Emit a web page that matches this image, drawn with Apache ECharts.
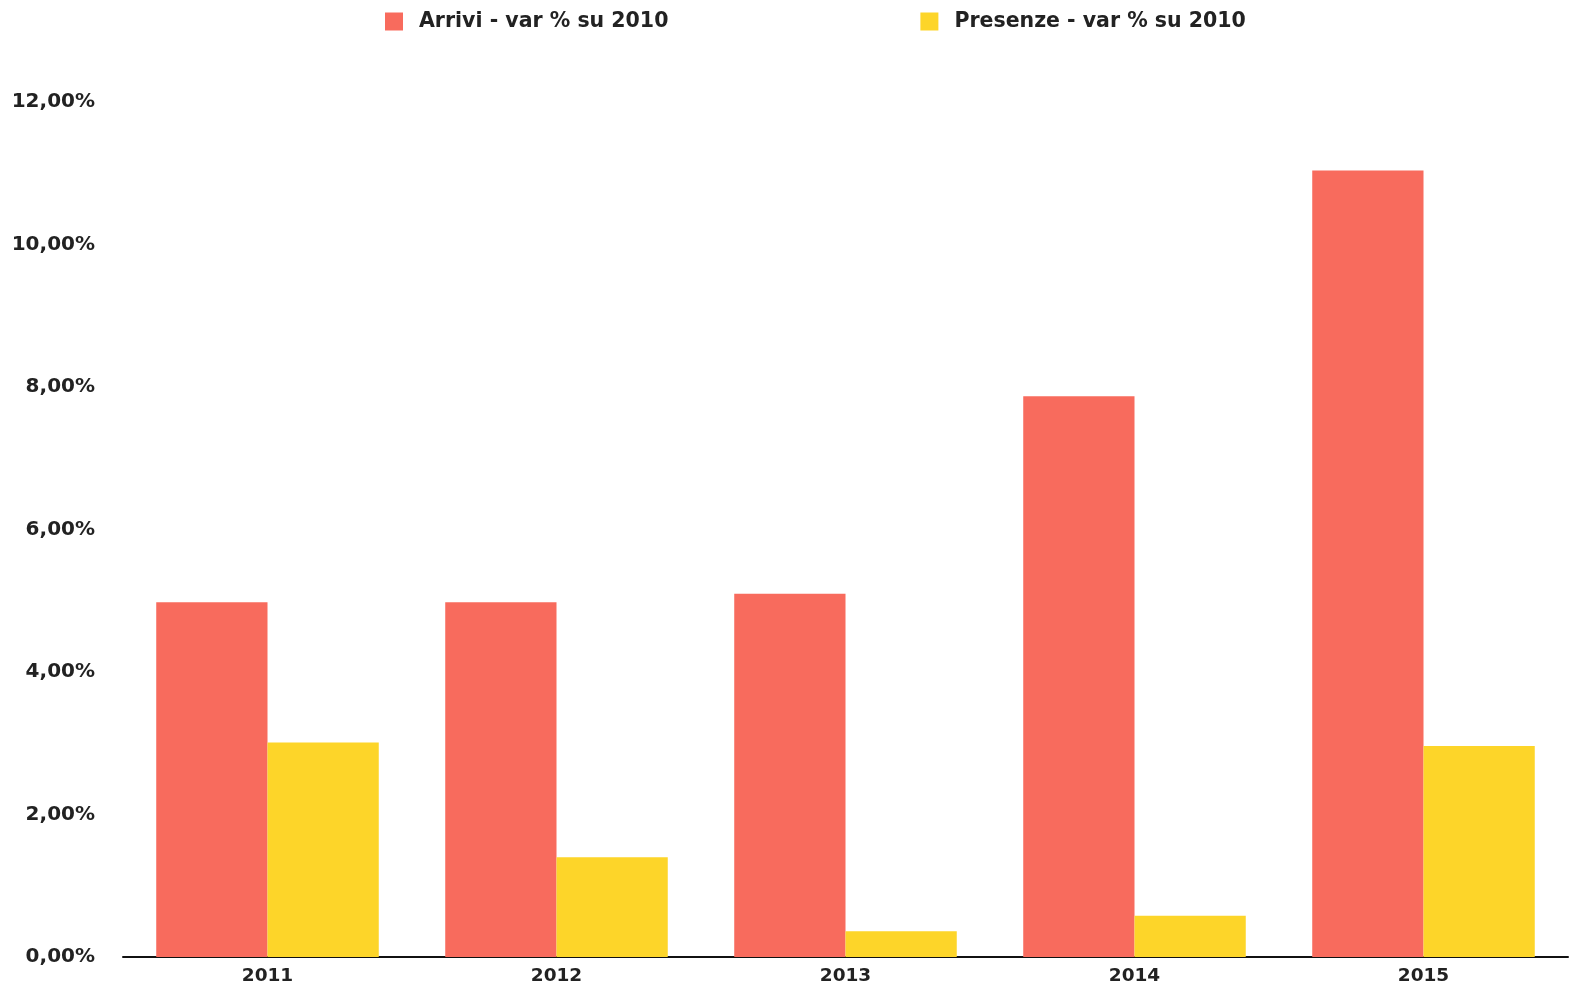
<!DOCTYPE html>
<html>
<head>
<meta charset="utf-8">
<script src="https://cdn.jsdelivr.net/npm/echarts@6/dist/echarts.min.js"></script>
<style>
html,body{margin:0;padding:0;background:#fff;}
#chart{width:1572px;height:991px;}
</style>
</head>
<body>
<div id="chart"></div>
<script>
const categories = ['2011', '2012', '2013', '2014', '2015'];
const arrivi = [4.98, 4.98, 5.10, 7.87, 11.04];
const presenze = [3.01, 1.40, 0.36, 0.58, 2.96];
const seriesNames = ['Arrivi - var % su 2010', 'Presenze - var % su 2010'];
const yTicks = [0, 2, 4, 6, 8, 10, 12];

const chart = echarts.init(document.getElementById('chart'));
const fontFamily = '"DejaVu Sans", sans-serif';
chart.setOption({
  animation: false,
  backgroundColor: '#ffffff',
  legend: {
    left: 380,
    top: 6,
    itemWidth: 18,
    itemHeight: 18,
    itemGap: 252,
    icon: 'rect',
    textStyle: { fontFamily, fontWeight: 'bold', fontSize: 20.5, color: '#222', padding: [0, 0, 0, 11] },
    data: seriesNames
  },
  grid: { left: 123, right: 4, top: 102, bottom: 34, containLabel: false },
  xAxis: {
    type: 'category',
    data: categories,
    axisLine: { show: true, lineStyle: { color: '#111', width: 2 } },
    axisTick: { show: false },
    axisLabel: { fontFamily, fontWeight: 'bold', fontSize: 18.5, color: '#222', margin: 10 }
  },
  yAxis: {
    type: 'value',
    min: yTicks[0],
    max: yTicks[yTicks.length - 1],
    interval: 2,
    splitLine: { show: false },
    axisLine: { show: false },
    axisTick: { show: false },
    axisLabel: {
      fontFamily, fontWeight: 'bold', fontSize: 20, color: '#222', margin: 28,
      formatter: v => v.toFixed(2).replace('.', ',') + '%'
    }
  },
  series: [
    { name: seriesNames[0], type: 'bar', data: arrivi, barGap: '0%', barCategoryGap: '23%', itemStyle: { color: '#F86B5D' } },
    { name: seriesNames[1], type: 'bar', data: presenze, barGap: '0%', barCategoryGap: '23%', itemStyle: { color: '#FDD529' } }
  ]
});
</script>
</body>
</html>
